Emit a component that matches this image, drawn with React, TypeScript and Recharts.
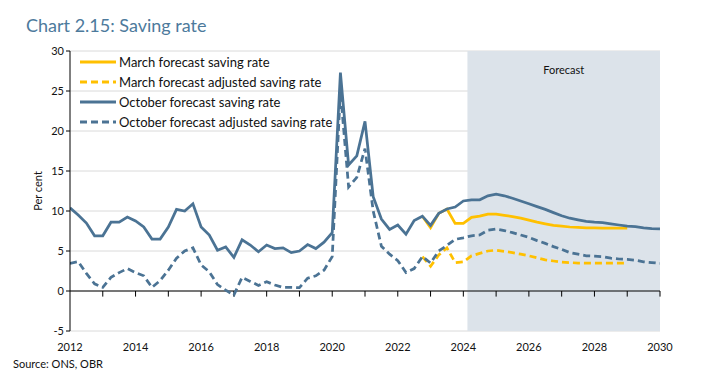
import { LineChart, Line, XAxis, YAxis, CartesianGrid, ReferenceArea, ReferenceLine, Legend } from 'recharts';

// quarterly observations, 2012 Q1 .. 2030 Q1
const quarters = Array.from({ length: 73 }, (_, i) => 2012 + i / 4);

const octoberSaving = [
  10.4, 9.5, 8.5, 6.9, 6.9, 8.6, 8.6, 9.25, 8.75, 8.0, 6.5, 6.5,
  8.0, 10.2, 10.0, 10.9, 8.0, 7.0, 5.1, 5.5, 4.2, 6.4, 5.75, 4.9,
  5.75, 5.3, 5.4, 4.8, 5.0, 5.8, 5.3, 6.1, 7.3, 27.3, 15.75, 16.9,
  21.2, 11.8, 9.0, 7.7, 8.25, 7.1, 8.8, 9.35, 8.2, 9.7, 10.25, 10.5,
  11.25, 11.4, 11.4, 11.9, 12.1, 11.9, 11.6, 11.25, 10.9, 10.55, 10.2, 9.8,
  9.4, 9.1, 8.9, 8.7, 8.6, 8.55, 8.4, 8.25, 8.1, 8.05, 7.9, 7.8,
  7.75,
];

const octoberAdjusted = [
  3.45, 3.67, 2.2, 0.9, 0.45, 1.7, 2.3, 2.8, 2.3, 1.9, 0.45, 1.3,
  2.6, 4.1, 5.0, 5.4, 3.25, 2.4, 0.8, 0.1, -0.5, 1.7, 1.2, 0.7,
  1.15, 0.75, 0.45, 0.45, 0.42, 1.6, 1.9, 2.6, 4.3, 25.0, 13.0, 14.2,
  17.8, 10.0, 5.6, 4.6, 3.8, 2.3, 2.8, 4.3, 3.5, 5.0, 5.7, 6.45,
  6.65, 6.9, 7.0, 7.6, 7.75, 7.55, 7.3, 7.0, 6.7, 6.3, 5.95, 5.55,
  5.2, 4.8, 4.6, 4.4, 4.35, 4.3, 4.1, 4.0, 3.95, 3.85, 3.65, 3.55,
  3.45,
];

// March forecast only shown where it departs from the October line (2022 Q4 .. 2029 Q1)
const marchSaving = [
  null, null, null, null, null, null, null, null, null, null, null, null,
  null, null, null, null, null, null, null, null, null, null, null, null,
  null, null, null, null, null, null, null, null, null, null, null, null,
  null, null, null, null, null, null, null, 9.35, 7.9, 9.7, 10.25, 8.45,
  8.45, 9.2, 9.35, 9.6, 9.6, 9.45, 9.3, 9.1, 8.85, 8.6, 8.4, 8.2,
  8.1, 8.0, 7.95, 7.9, 7.9, 7.85, 7.85, 7.85, 7.85, null, null, null,
  null,
];

const marchAdjusted = [
  null, null, null, null, null, null, null, null, null, null, null, null,
  null, null, null, null, null, null, null, null, null, null, null, null,
  null, null, null, null, null, null, null, null, null, null, null, null,
  null, null, null, null, null, null, null, 4.3, 3.1, 4.5, 5.4, 3.55,
  3.65, 4.4, 4.7, 5.0, 5.1, 4.95, 4.8, 4.6, 4.4, 4.15, 3.9, 3.75,
  3.6, 3.55, 3.5, 3.5, 3.5, 3.5, 3.5, 3.5, 3.5, null, null, null,
  null,
];

const seriesNames = [
  'March forecast saving rate',
  'March forecast adjusted saving rate',
  'October forecast saving rate',
  'October forecast adjusted saving rate',
];

const yTicks = [-5, 0, 5, 10, 15, 20, 25, 30];
const xTicks = [2012, 2014, 2016, 2018, 2020, 2022, 2024, 2026, 2028, 2030];
const yearMarks = [2013, 2014, 2015, 2016, 2017, 2018, 2019, 2020, 2021, 2022, 2023, 2024, 2025, 2026, 2027, 2028, 2029, 2030];
const forecastStart = 2024.125;
const forecastEnd = 2030;

const data = quarters.map((q, i) => ({
  q,
  march: marchSaving[i],
  marchAdj: marchAdjusted[i],
  october: octoberSaving[i],
  octoberAdj: octoberAdjusted[i],
}));

const BLUE = '#4b7394';
const YELLOW = '#ffc000';
const FONT = 'Lato, "Open Sans", sans-serif';

function LegendContent(props: any) {
  const items = [...(props.payload || [])].sort(
    (a: any, b: any) => seriesNames.indexOf(a.value) - seriesNames.indexOf(b.value)
  );
  return (
    <div style={{ display: 'flex', flexDirection: 'column', fontFamily: FONT }}>
      {items.map((entry: any) => (
        <div key={entry.value} style={{ display: 'flex', alignItems: 'center', height: 20 }}>
          <svg width={36} height={4} style={{ display: 'block' }}>
            <line x1={0} y1={2} x2={36} y2={2} stroke={entry.color} strokeWidth={3}
              strokeDasharray={entry.payload?.strokeDasharray} />
          </svg>
          <span style={{ marginLeft: 3, fontSize: 13, color: '#111' }}>{entry.value}</span>
        </div>
      ))}
    </div>
  );
}

export default function App() {
  return (
    <div style={{ position: 'absolute', left: 0, top: 0, width: 703, height: 382, background: '#fff', fontFamily: FONT }}>
      <div style={{ position: 'absolute', left: 26, top: 14, fontSize: 18, color: '#4d7a9c' }}>
        Chart 2.15: Saving rate
      </div>
      <LineChart width={703} height={382} data={data} margin={{ top: 51, right: 43, bottom: 31, left: 30 }}>
        <ReferenceArea x1={forecastStart} x2={forecastEnd} y1={-5} y2={30} fill="#dce3ea" fillOpacity={1} stroke="none"
          label={{ value: 'Forecast', position: 'insideTop', offset: 15, fontSize: 11, fill: '#111' }} />
        <CartesianGrid vertical={false} stroke="#dadada" />
        <XAxis dataKey="q" type="number" domain={[2012, 2030]} ticks={xTicks} axisLine={false} tickLine={false}
          height={20} tickMargin={6} tick={{ fontSize: 11, fill: '#111' }} interval={0} allowDataOverflow />
        <YAxis domain={[-5, 30]} ticks={yTicks} width={40} tickSize={4} axisLine={{ stroke: '#000' }}
          tickLine={{ stroke: '#000' }} tick={{ fontSize: 11, fill: '#111' }} interval={0}
          label={{ value: 'Per cent', angle: -90, position: 'insideLeft', dx: 3, fontSize: 11, fill: '#111', style: { textAnchor: 'middle' } }} />
        <ReferenceLine y={0} stroke="#000" strokeWidth={1} />
        {yearMarks.map((yr) => (
          <ReferenceLine key={yr} segment={[{ x: yr, y: 0 }, { x: yr, y: -0.7 }]} stroke="#000" />
        ))}
        <Legend layout="vertical" align="center" verticalAlign="middle" content={<LegendContent />}
          wrapperStyle={{ left: 80, top: 52, width: 260 }} />
        <Line dataKey="march" name={seriesNames[0]} stroke={YELLOW} strokeWidth={2.75} dot={false}
          isAnimationActive={false} />
        <Line dataKey="marchAdj" name={seriesNames[1]} stroke={YELLOW} strokeWidth={2.75}
          strokeDasharray="7 4" dot={false} isAnimationActive={false} />
        <Line dataKey="october" name={seriesNames[2]} stroke={BLUE} strokeWidth={2.75} dot={false}
          isAnimationActive={false} />
        <Line dataKey="octoberAdj" name={seriesNames[3]} stroke={BLUE} strokeWidth={2.75}
          strokeDasharray="7 4" dot={false} isAnimationActive={false} />
      </LineChart>
      <div style={{ position: 'absolute', left: 13, top: 357, fontSize: 11, color: '#111' }}>Source: ONS, OBR</div>
    </div>
  );
}
